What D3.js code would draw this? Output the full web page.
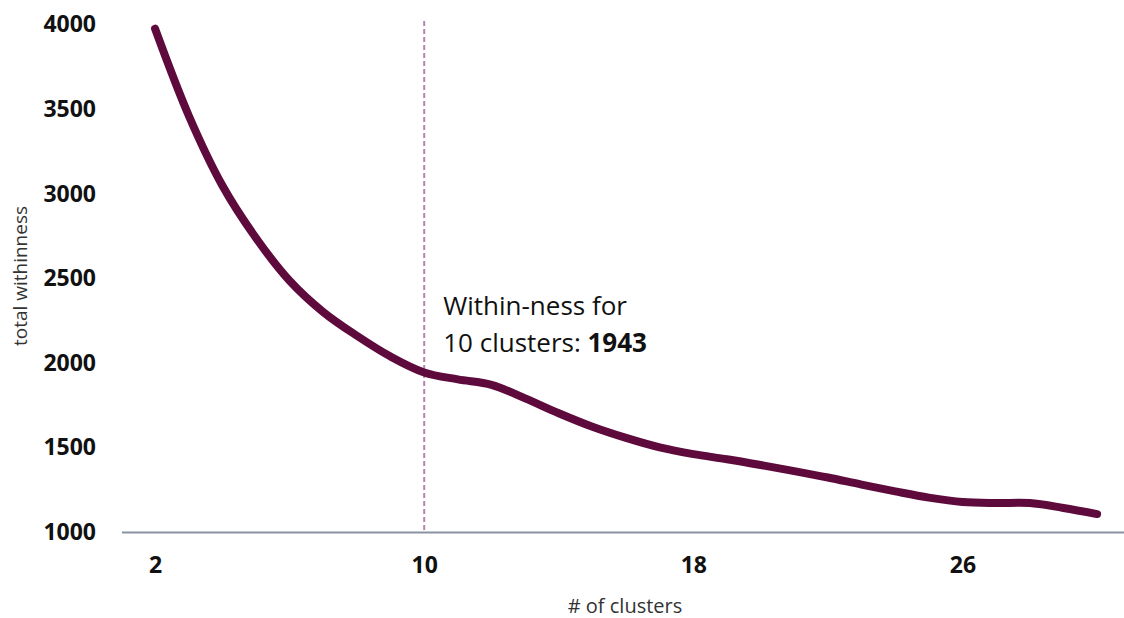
<!DOCTYPE html>
<html>
<head>
<meta charset="utf-8">
<script src="https://cdn.jsdelivr.net/npm/d3@7"></script>
<style>
  html, body { margin: 0; padding: 0; background: #ffffff; }
  svg { display: block; }
</style>
</head>
<body>
<svg id="chart" width="1124" height="618"></svg>
<script>
// ---- data ----
const clusters = [2,3,4,5,6,7,8,9,10,11,12,13,14,15,16,17,18,19,20,21,22,23,24,25,26,27,28,29,30];
const withinness = [3975,3462,3048,2738,2485,2300,2160,2037,1943,1902,1870,1790,1702,1622,1556,1500,1460,1430,1396,1360,1322,1280,1240,1203,1177,1171,1171,1142,1106];
const xTicks = [2, 10, 18, 26];
const yTicks = [1000, 1500, 2000, 2500, 3000, 3500, 4000];
const highlightK = 10;
const highlightValue = 1943;
const xTitle = "# of clusters";
const yTitle = "total withinness";
const noteLine1 = "Within-ness for";
const noteLine2 = "10 clusters: ";

const data = clusters.map((c, i) => ({ k: c, v: withinness[i] }));

const svg = d3.select("#chart");

const x = d3.scaleLinear().domain([1, 30.8]).range([121.4, 1124]);
const y = d3.scaleLinear().domain([1000, 4000]).range([532, 24.5]);

const fontFamily = "'Open Sans', 'Noto Sans', sans-serif";

// dashed highlight line
svg.append("line")
  .attr("x1", x(highlightK)).attr("x2", x(highlightK))
  .attr("y1", 21).attr("y2", y(1000))
  .attr("stroke", "#b584aa")
  .attr("stroke-width", 2)
  .attr("stroke-dasharray", "5,3");

// x axis
const xAxis = svg.append("g")
  .attr("transform", `translate(0,${y(1000)})`)
  .call(d3.axisBottom(x).tickValues(xTicks).tickSize(0).tickPadding(25).tickSizeOuter(0));
xAxis.select(".domain").attr("stroke", "#8a93a3").attr("stroke-width", 2);
xAxis.selectAll("text")
  .attr("font-family", fontFamily)
  .attr("font-weight", "bold")
  .attr("font-size", 23)
  .attr("fill", "#111");

// y axis
const yAxis = svg.append("g")
  .attr("transform", "translate(96,0)")
  .call(d3.axisLeft(y).tickValues(yTicks).tickSize(0).tickPadding(0).tickFormat(d3.format("d")));
yAxis.select(".domain").remove();
yAxis.selectAll("text")
  .attr("font-family", fontFamily)
  .attr("font-weight", "bold")
  .attr("font-size", 23)
  .attr("fill", "#111");

// line
const line = d3.line()
  .x(d => x(d.k))
  .y(d => y(d.v))
  .curve(d3.curveCatmullRom.alpha(0.5));

svg.append("path")
  .datum(data)
  .attr("d", line)
  .attr("fill", "none")
  .attr("stroke", "#5e0a3d")
  .attr("stroke-width", 8)
  .attr("stroke-linecap", "round")
  .attr("stroke-linejoin", "round");

// annotation
const note = svg.append("text")
  .attr("font-family", fontFamily)
  .attr("font-size", 26)
  .attr("fill", "#111");
note.append("tspan").attr("x", x(highlightK) + 19).attr("y", 315).text(noteLine1);
note.append("tspan").attr("x", x(highlightK) + 19).attr("y", 352).text(noteLine2);
note.append("tspan").attr("font-weight", "bold").text(highlightValue);

// axis titles
svg.append("text")
  .attr("x", 625).attr("y", 613)
  .attr("text-anchor", "middle")
  .attr("font-family", fontFamily)
  .attr("font-size", 20)
  .attr("fill", "#333")
  .text(xTitle);

svg.append("text")
  .attr("transform", "translate(27,276) rotate(-90)")
  .attr("text-anchor", "middle")
  .attr("font-family", fontFamily)
  .attr("font-size", 19)
  .attr("fill", "#333")
  .text(yTitle);
</script>
</body>
</html>
